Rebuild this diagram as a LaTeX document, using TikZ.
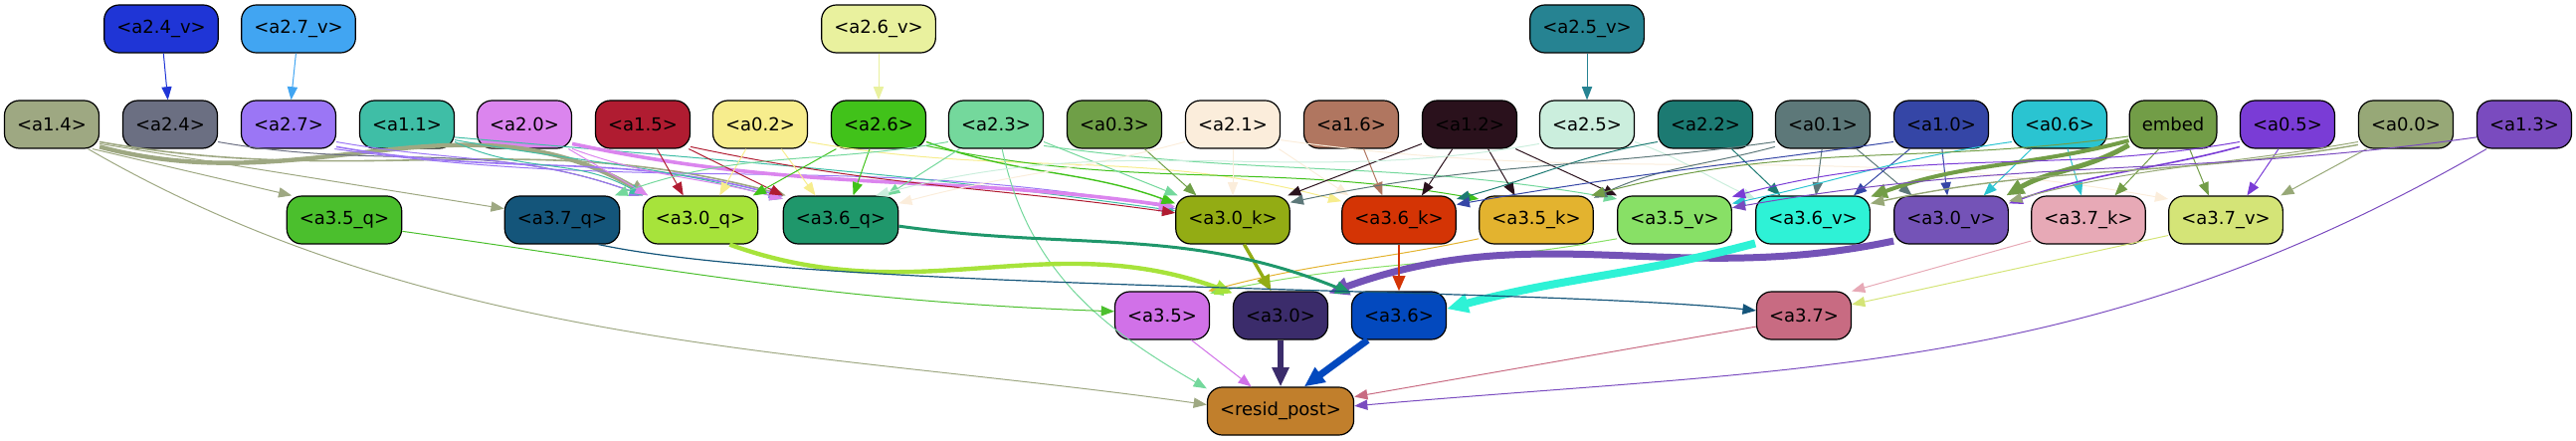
\documentclass[tikz,border=0pt]{standalone}
\usepackage{fontspec}
\setmainfont{DejaVu Sans}
\usetikzlibrary{arrows.meta}
\definecolor{c24v}{HTML}{1F35D6}
\definecolor{c27v}{HTML}{41A5F2}
\definecolor{c26v}{HTML}{E9F19E}
\definecolor{c25v}{HTML}{268392}
\definecolor{c14}{HTML}{9EA882}
\definecolor{c24}{HTML}{6B6F82}
\definecolor{c27}{HTML}{9B76F5}
\definecolor{c11}{HTML}{3FBEA6}
\definecolor{c20}{HTML}{DB85EE}
\definecolor{c15}{HTML}{B01C31}
\definecolor{c02}{HTML}{F7ED8D}
\definecolor{c26}{HTML}{41C21A}
\definecolor{c23}{HTML}{74D89C}
\definecolor{c03}{HTML}{6F9F47}
\definecolor{c21}{HTML}{FBEDDB}
\definecolor{c16}{HTML}{B07660}
\definecolor{c12}{HTML}{2A111C}
\definecolor{c25}{HTML}{CBEEDD}
\definecolor{c22}{HTML}{1C7A72}
\definecolor{c01}{HTML}{5D7879}
\definecolor{c10}{HTML}{3546A6}
\definecolor{c06}{HTML}{2AC4D1}
\definecolor{cemb}{HTML}{729D47}
\definecolor{c05}{HTML}{7A3CD6}
\definecolor{c00}{HTML}{97A877}
\definecolor{c13}{HTML}{7A4BBF}
\definecolor{c35q}{HTML}{4BBF2D}
\definecolor{c37q}{HTML}{14557A}
\definecolor{c30q}{HTML}{A7E33B}
\definecolor{c36q}{HTML}{1F976B}
\definecolor{c30k}{HTML}{93AC14}
\definecolor{c36k}{HTML}{D43405}
\definecolor{c35k}{HTML}{E3B32F}
\definecolor{c35v}{HTML}{88E066}
\definecolor{c36v}{HTML}{2EF2D6}
\definecolor{c30v}{HTML}{7453B7}
\definecolor{c37k}{HTML}{E7A9B6}
\definecolor{c37v}{HTML}{D4E477}
\definecolor{c35}{HTML}{D171E8}
\definecolor{c30}{HTML}{3B2C6B}
\definecolor{c36}{HTML}{0349BE}
\definecolor{c37}{HTML}{C86B82}
\definecolor{crp}{HTML}{C17F2C}
\begin{document}
\begin{tikzpicture}[x=0.5pt,y=0.5pt,
  nd/.style={draw=black, line width=0.6pt, rounded corners=7.5pt, minimum height=24pt,
    inner xsep=6.3pt, inner ysep=0pt, font=\fontsize{9}{10}\selectfont, text=black},
  ed/.style={line width=0.5pt, -{Triangle[length=6pt 1.2, width=4.5pt 1.2]}}]
\useasboundingbox (0,0) rectangle (2589,-443);
% row 1
\node[nd,fill=c24v] (a24v) at (162,-29) {<a2.4\_v>};
\node[nd,fill=c27v] (a27v) at (300,-29) {<a2.7\_v>};
\node[nd,fill=c26v] (a26v) at (883,-29) {<a2.6\_v>};
\node[nd,fill=c25v] (a25v) at (1595,-29) {<a2.5\_v>};
% row 2
\node[nd,fill=c14] (a14) at (52,-125) {<a1.4>};
\node[nd,fill=c24] (a24) at (171,-125) {<a2.4>};
\node[nd,fill=c27] (a27) at (290,-125) {<a2.7>};
\node[nd,fill=c11] (a11) at (409,-125) {<a1.1>};
\node[nd,fill=c20] (a20) at (527,-125) {<a2.0>};
\node[nd,fill=c15] (a15) at (646,-125) {<a1.5>};
\node[nd,fill=c02] (a02) at (764,-125) {<a0.2>};
\node[nd,fill=c26] (a26) at (883,-125) {<a2.6>};
\node[nd,fill=c23] (a23) at (1001,-125) {<a2.3>};
\node[nd,fill=c03] (a03) at (1120,-125) {<a0.3>};
\node[nd,fill=c21] (a21) at (1239,-125) {<a2.1>};
\node[nd,fill=c16] (a16) at (1358,-125) {<a1.6>};
\node[nd,fill=c12] (a12) at (1477,-125) {<a1.2>};
\node[nd,fill=c25] (a25) at (1595,-125) {<a2.5>};
\node[nd,fill=c22] (a22) at (1714,-125) {<a2.2>};
\node[nd,fill=c01] (a01) at (1832,-125) {<a0.1>};
\node[nd,fill=c10] (a10) at (1951,-125) {<a1.0>};
\node[nd,fill=c06] (a06) at (2070,-125) {<a0.6>};
\node[nd,fill=cemb] (emb) at (2184,-125) {embed};
\node[nd,fill=c05] (a05) at (2299,-125) {<a0.5>};
\node[nd,fill=c00] (a00) at (2418,-125) {<a0.0>};
\node[nd,fill=c13] (a13) at (2537,-125) {<a1.3>};
% row 3
\node[nd,fill=c35q] (a35q) at (346,-221) {<a3.5\_q>};
\node[nd,fill=c37q] (a37q) at (565,-221) {<a3.7\_q>};
\node[nd,fill=c30q] (a30q) at (704,-221) {<a3.0\_q>};
\node[nd,fill=c36q] (a36q) at (845,-221) {<a3.6\_q>};
\node[nd,fill=c30k] (a30k) at (1239,-221) {<a3.0\_k>};
\node[nd,fill=c36k] (a36k) at (1406,-221) {<a3.6\_k>};
\node[nd,fill=c35k] (a35k) at (1544,-221) {<a3.5\_k>};
\node[nd,fill=c35v] (a35v) at (1683,-221) {<a3.5\_v>};
\node[nd,fill=c36v] (a36v) at (1822,-221) {<a3.6\_v>};
\node[nd,fill=c30v] (a30v) at (1961,-221) {<a3.0\_v>};
\node[nd,fill=c37k] (a37k) at (2099,-221) {<a3.7\_k>};
\node[nd,fill=c37v] (a37v) at (2237,-221) {<a3.7\_v>};
% row 4
\node[nd,fill=c35] (a35) at (1168,-317) {<a3.5>};
\node[nd,fill=c30] (a30) at (1287,-317) {<a3.0>};
\node[nd,fill=c36] (a36) at (1406,-317) {<a3.6>};
\node[nd,fill=c37] (a37) at (1813,-317) {<a3.7>};
% row 5
\node[nd,fill=crp] (rp) at (1287,-413) {<resid\_post>};
% top edges
\draw[ed,c24v] (a24v) -- (a24);
\draw[ed,c27v] (a27v) -- (a27);
\draw[ed,c26v] (a26v) -- (a26);
\draw[ed,c25v] (a25v) -- (a25);
% a1.4
\draw[ed,c14] (a14.-31) -- (a35q.155);
\draw[ed,c14] (a14.-22) -- (a37q.169);
\draw[ed,c14,line width=2.2pt] (a14.-25) to[out=-15,in=150] (a30q.155);
\draw[ed,c14,line width=0.8pt] (a14.-20) to[out=-10,in=165] (a36q.156);
\draw[ed,c14] (a14.-34) to[out=-30,in=172,looseness=0.9] (rp.175);
% a2.4
\draw[ed,c24] (a24.-20) to[out=-10,in=160] (a30q.157);
% a2.7
\draw[ed,c27] (a27.-20) to[out=-10,in=160] (a30q.157);
\draw[ed,c27,line width=0.8pt] (a27.-25) to[out=-10,in=165] (a36q.158);
\draw[ed,c27] (a27.-28) to[out=-8,in=170] (a30k.169);
% a1.1
\draw[ed,c11] (a11.-20) to[out=-25,in=150] (a30q.157);
\draw[ed,c11] (a11.-18) to[out=-10,in=165] (a36q.160);
\draw[ed,c11] (a11.-15) to[out=-5,in=172] (a30k.171);
% a2.0
\draw[ed,c20] (a20.-29) -- (a30q.155);
\draw[ed,c20] (a20.-27) to[out=-20,in=165] (a36q.160);
\draw[ed,c20,line width=1.8pt] (a20.-22) to[out=-12,in=172] (a30k.167);
% a1.5
\draw[ed,c15] (a15.-60) -- (a30q.125);
\draw[ed,c15] (a15.-28) -- (a36q.157);
\draw[ed,c15] (a15.-25) to[out=-12,in=172] (a30k.173);
% a0.2
\draw[ed,c02] (a02.-120) -- (a30q.52);
\draw[ed,c02] (a02.-49) -- (a36q.136);
\draw[ed,c02] (a02.-20) to[out=-10,in=165] (a36k.162);
% a2.6
\draw[ed,c26] (a26.-150) -- (a30q.25);
\draw[ed,c26] (a26.-110) -- (a36q.63);
\draw[ed,c26,line width=0.7pt] (a26.-20) to[out=-20,in=160] (a30k.164);
\draw[ed,c26] (a26.-24) to[out=-12,in=170] (a35k.160);
% a2.3
\draw[ed,c23] (a23.-160) to[out=-170,in=20] (a37q.25);
\draw[ed,c23] (a23.-146) -- (a36q.28);
\draw[ed,c23] (a23.-20) -- (a30k.156);
\draw[ed,c23] (a23.-24) to[out=-8,in=170] (a35v.160);
\draw[ed,c23] (a23.-76) to[out=-78,in=150] (rp.163);
% a0.3
\draw[ed,c03] (a03.-39) -- (a30k.146);
% a2.1
\draw[ed,c21] (a21) -- (a30k);
\draw[ed,c21] (a21.-160) to[out=-165,in=15] (a36q.16);
\draw[ed,c21] (a21.-28) -- (a36k.154);
\draw[ed,c21] (a21.-18) to[out=-8,in=170] (a37v.160);
% a1.6
\draw[ed,c16] (a16.-63) -- (a36k.124);
% a1.2
\draw[ed,c12] (a12.-158) -- (a30k.24);
\draw[ed,c12] (a12.-125) -- (a36k.47);
\draw[ed,c12] (a12.-53) -- (a35k.131);
\draw[ed,c12] (a12.-28) -- (a35v.157);
% a2.5
\draw[ed,c25] (a25.-158) to[out=-170,in=15] (a36q.35);
\draw[ed,c25] (a25.-20) to[out=-20,in=155] (a36v.160);
% a2.2
\draw[ed,c22] (a22.-43) -- (a36v.143);
\draw[ed,c22] (a22.-160) to[out=-170,in=15] (a36k.20);
% a0.1
\draw[ed,c01] (a01.-160) to[out=-172,in=12] (a30k.17);
\draw[ed,c01] (a01.-155) to[out=-165,in=25] (a35k.21);
\draw[ed,c01] (a01.-92) -- (a36v.83);
\draw[ed,c01] (a01.-36) -- (a30v.148);
% a1.0
\draw[ed,c10] (a10.-142) -- (a36v.31);
\draw[ed,c10] (a10.-88) -- (a30v.99);
\draw[ed,c10] (a10.-160) to[out=-172,in=10] (a36k.15);
% a0.6
\draw[ed,c06] (a06.-139) -- (a30v.37);
\draw[ed,c06] (a06.-72) -- (a37k.106);
\draw[ed,c06] (a06.-160) to[out=-172,in=12] (a35v.16);
% embed
\draw[ed,cemb,line width=2.5pt] (emb.-155) to[out=-150,in=30] (a30v.24);
\draw[ed,cemb,line width=2pt] (emb.-160) to[out=-165,in=20] (a36v.22);
\draw[ed,cemb] (emb.-120) -- (a37k.43);
\draw[ed,cemb] (emb.-56) -- (a37v.125);
\draw[ed,cemb] (emb.-165) to[out=-172,in=15] (a35k.24);
% a0.5
\draw[ed,c05] (a05.-110) -- (a37v.49);
\draw[ed,c05] (a05.-160) to[out=-170,in=15] (a35v.22);
\draw[ed,c05,line width=0.8pt] (a05.-155) to[out=-165,in=20] (a30v.16);
% a0.0
\draw[ed,c00] (a00.-148) -- (a37v.24);
\draw[ed,c00] (a00.-160) to[out=-170,in=15] (a30v.18);
\draw[ed,c00,line width=0.7pt] (a00.-157) to[out=-170,in=12] (a36v.16);
% a1.3
\draw[ed,c13] (a13.-147) to[out=-150,in=5] (rp.4);
\draw[ed,c13] (a13.-165) to[out=-172,in=10] (a35v.12);
% row 3 to row 4
\draw[ed,c35q] (a35q.-11) to[out=-8,in=178] (a35.175);
\draw[ed,c35k] (a35k.-162) to[out=-168,in=15] (a35.28);
\draw[ed,c35v] (a35v.-162) to[out=-170,in=12] (a35.25);
\draw[ed,c30q,line width=2.2pt] (a30q.-40) to[out=-20,in=160] (a30.155);
\draw[ed,c30k,line width=1.7pt] (a30k.-65) -- (a30.111);
\draw[ed,c30v,line width=3.5pt] (a30v.-160) to[out=-168,in=20] (a30.25);
\draw[ed,c36q,line width=1.5pt] (a36q.-6) to[out=-8,in=158] (a36.155);
\draw[ed,c36k,line width=1.4pt] (a36k) -- (a36);
\draw[ed,c36v,line width=4pt] (a36v.-158) to[out=-165,in=15] (a36.8);
\draw[ed,c37q,line width=0.6pt] (a37q.-34) to[out=-12,in=174,looseness=0.5] (a37.174);
\draw[ed,c37k] (a37k.-160) -- (a37.27);
\draw[ed,c37v] (a37v.-165) -- (a37.13);
% row 4 to resid_post
\draw[ed,c35] (a35.-40) -- (rp.140);
\draw[ed,c30,line width=3pt] (a30) -- (rp);
\draw[ed,c36,line width=3.5pt] (a36.-142) -- (rp.46);
\draw[ed,c37] (a37.-167) -- (rp.11);
\end{tikzpicture}
\end{document}
